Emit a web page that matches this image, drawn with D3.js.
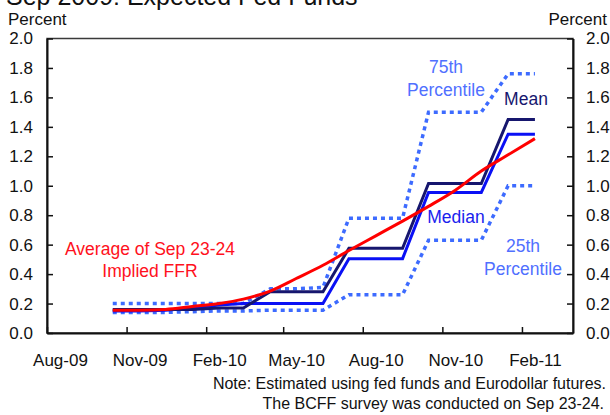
<!DOCTYPE html>
<html>
<head>
<meta charset="utf-8">
<script src="https://cdn.jsdelivr.net/npm/d3@7"></script>
<style>
  body { margin: 0; background: #fff; }
  svg { display: block; font-family: "Liberation Sans", Arial, sans-serif; }
</style>
</head>
<body>
<div id="chart"></div>
<script>
(function (d3) {

  // monthly points (mid-month), Oct-09 .. Feb-11
  var months = ["2009-10", "2009-11", "2009-12", "2010-01", "2010-02", "2010-03", "2010-04",
                "2010-05", "2010-06", "2010-07", "2010-08", "2010-09", "2010-10", "2010-11",
                "2010-12", "2011-01", "2011-02"];
  var implied = [0.155, 0.155, 0.16, 0.18, 0.20, 0.23, 0.285, 0.37, 0.46, 0.56, 0.66, 0.76,
                 0.86, 0.97, 1.10, 1.21, 1.32];
  var mean    = [0.16, 0.16, 0.16, 0.16, 0.17, 0.17, 0.28, 0.28, 0.28, 0.575, 0.575, 0.575,
                 1.015, 1.015, 1.015, 1.45, 1.45];
  var median  = [0.15, 0.15, 0.155, 0.17, 0.19, 0.20, 0.20, 0.20, 0.20, 0.505, 0.505, 0.505,
                 0.955, 0.955, 0.955, 1.35, 1.35];
  var pct75   = [0.20, 0.20, 0.20, 0.20, 0.20, 0.20, 0.30, 0.30, 0.31, 0.78, 0.78, 0.78,
                 1.50, 1.50, 1.50, 1.76, 1.76];
  var pct25   = [0.14, 0.14, 0.14, 0.145, 0.15, 0.15, 0.155, 0.155, 0.155, 0.26, 0.26, 0.26,
                 0.63, 0.63, 0.63, 1.00, 1.00];

  var xTickMonths = ["2009-08", "2009-11", "2010-02", "2010-05", "2010-08", "2010-11", "2011-02"];
  var xTickLabels = ["Aug-09", "Nov-09", "Feb-10", "May-10", "Aug-10", "Nov-10", "Feb-11"];
  var yTicks = [0, 0.2, 0.4, 0.6, 0.8, 1.0, 1.2, 1.4, 1.6, 1.8, 2.0];

  var W = 610, H = 415;
  var margin = {top: 38.5, right: 37, bottom: 82, left: 47};
  var width = W - margin.left - margin.right,
      height = H - margin.top - margin.bottom;

  var parse = d3.timeParse("%Y-%m");
  function mid(s) { var d = parse(s); return new Date(d.getFullYear(), d.getMonth(), 16); }

  var x = d3.scaleTime()
      .domain([new Date(2009, 7, 1), new Date(2011, 3, 1)])
      .range([0, width]);
  var y = d3.scaleLinear()
      .domain([0, 2])
      .range([height, 0]);

  var svg = d3.select("#chart").append("svg")
      .attr("width", W)
      .attr("height", H);

  // title, clipped at the top edge as in the picture
  svg.append("text")
      .attr("x", 6).attr("y", 5)
      .style("font-size", "25px")
      .attr("fill", "#111")
      .text("Sep 2009: Expected Fed Funds");

  svg.append("text").attr("x", 8).attr("y", 25)
      .style("font-size", "17px").attr("fill", "#111").text("Percent");
  svg.append("text").attr("x", 607).attr("y", 25).attr("text-anchor", "end")
      .style("font-size", "17px").attr("fill", "#111").text("Percent");

  var g = svg.append("g")
      .attr("transform", "translate(" + margin.left + "," + margin.top + ")");

  // frame
  g.append("rect")
      .attr("width", width).attr("height", height)
      .attr("fill", "none").attr("stroke", "#3a3a3a").attr("stroke-width", 1.5);

  // y axes, ticks pointing inward
  var yl = g.append("g")
      .call(d3.axisLeft(y).tickValues(yTicks).tickSizeInner(-6).tickSizeOuter(0)
            .tickPadding(14).tickFormat(d3.format(".1f")));
  var yr = g.append("g")
      .attr("transform", "translate(" + width + ",0)")
      .call(d3.axisRight(y).tickValues(yTicks).tickSizeInner(-6).tickSizeOuter(0)
            .tickPadding(13).tickFormat(d3.format(".1f")));
  [yl, yr].forEach(function (a) {
    a.select(".domain").attr("stroke", "#111").attr("stroke-width", 2);
    a.selectAll("line").attr("stroke", "#111").attr("stroke-width", 1.5);
    a.selectAll("text").style("font-size", "17px").attr("fill", "#111")
      .style("font-family", "Liberation Sans, Arial, sans-serif");
  });

  // x axis: ticks at month starts, labels centred on the month
  var xa = g.append("g")
      .attr("transform", "translate(0," + height + ")")
      .call(d3.axisBottom(x).tickValues(xTickMonths.map(parse)).tickSizeInner(-6)
            .tickSizeOuter(0).tickFormat(""));
  xa.select(".domain").attr("stroke", "#111").attr("stroke-width", 2);
  xa.selectAll("line").attr("stroke", "#111").attr("stroke-width", 1.5);

  var xl = g.append("g")
      .attr("transform", "translate(0," + height + ")")
      .call(d3.axisBottom(x).tickValues(xTickMonths.map(mid)).tickSize(0).tickPadding(21)
            .tickFormat(function (d, i) { return xTickLabels[i]; }));
  xl.select(".domain").remove();
  xl.selectAll("text").style("font-size", "17px").attr("fill", "#111")
    .style("font-family", "Liberation Sans, Arial, sans-serif");

  function series(vals) {
    return vals.map(function (v, i) { return {date: mid(months[i]), value: v}; });
  }
  var line = d3.line()
      .x(function (d) { return x(d.date); })
      .y(function (d) { return y(d.value); });
  var smooth = d3.line()
      .curve(d3.curveMonotoneX)
      .x(function (d) { return x(d.date); })
      .y(function (d) { return y(d.value); });

  g.append("path").datum(series(pct75)).attr("d", line)
      .attr("fill", "none").attr("stroke", "#3d6bff").attr("stroke-width", 3.5)
      .attr("stroke-dasharray", "4,4");
  g.append("path").datum(series(pct25)).attr("d", line)
      .attr("fill", "none").attr("stroke", "#3d6bff").attr("stroke-width", 3.5)
      .attr("stroke-dasharray", "4,4");
  g.append("path").datum(series(median)).attr("d", line)
      .attr("fill", "none").attr("stroke", "#0a10f5").attr("stroke-width", 3);
  g.append("path").datum(series(mean)).attr("d", line)
      .attr("fill", "none").attr("stroke", "#16166e").attr("stroke-width", 3);
  g.append("path").datum(series(implied)).attr("d", smooth)
      .attr("fill", "none").attr("stroke", "#ff0000").attr("stroke-width", 3);

  // annotations
  function label(txt, cx, by, col, anchor) {
    svg.append("text").attr("x", cx).attr("y", by)
        .attr("text-anchor", anchor || "middle")
        .style("font-size", "17.5px").attr("fill", col).text(txt);
  }
  label("Average of Sep 23-24", 150, 255, "#ff1020");
  label("Implied FFR", 150, 277, "#ff1020");
  label("75th", 446, 73, "#5070ff");
  label("Percentile", 446, 96, "#5070ff");
  label("Mean", 526, 105, "#16166e");
  label("Median", 456, 223, "#1a22ee");
  label("25th", 523, 252, "#5070ff");
  label("Percentile", 523, 275, "#5070ff");

  svg.append("text").attr("x", 606).attr("y", 389).attr("text-anchor", "end")
      .style("font-size", "16px").attr("fill", "#111")
      .text("Note: Estimated using fed funds and Eurodollar futures.");
  svg.append("text").attr("x", 604).attr("y", 409).attr("text-anchor", "end")
      .style("font-size", "16px").attr("fill", "#111")
      .text("The BCFF survey was conducted on Sep 23-24.");

})(d3);
</script>
</body>
</html>
